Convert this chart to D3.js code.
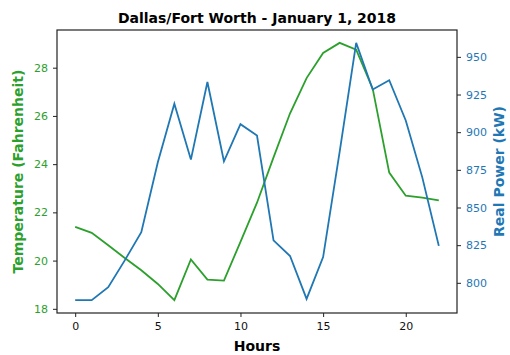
<!DOCTYPE html>
<html>
<head>
<meta charset="utf-8">
<script src="https://cdn.jsdelivr.net/npm/d3@7"></script>
<style>
  body { margin: 0; background: #fff; }
  text { font-family: "DejaVu Sans", sans-serif; }
</style>
</head>
<body>
<script>
// hourly readings, Dallas/Fort Worth, Jan 1 2018
var hours = d3.range(0, 23);
var temperature = [21.40, 21.15, 20.64, 20.11, 19.60, 19.03, 18.36, 20.05, 19.21, 19.17,
                   20.78, 22.40, 24.28, 26.11, 27.57, 28.61, 29.03, 28.75, 27.13, 23.65,
                   22.69, 22.61, 22.50];
var power = [788.5, 788.5, 797.1, 814.9, 833.6, 880.0, 918.9, 881.8, 933.3, 880.7,
             905.3, 897.8, 828.2, 817.8, 789.3, 817.1, 887.0, 959.3, 928.3, 934.5,
             907.8, 870.0, 824.5];
var xTicks = [0, 5, 10, 15, 20];
var tempTicks = [18, 20, 22, 24, 26, 28];
var powerTicks = [800, 825, 850, 875, 900, 925, 950];

var green = "#2ca02c", blue = "#1f77b4";

// set the dimensions and margins of the graph
var margin = {top: 30, right: 53, bottom: 42, left: 57},
    width = 510 - margin.left - margin.right,
    height = 355 - margin.top - margin.bottom;

var svg = d3.select("body").append("svg")
    .attr("width", 510)
    .attr("height", 355)
  .append("g")
    .attr("transform", "translate(" + margin.left + "," + margin.top + ")");

// matplotlib style 5% padding around the data
function padded(vals) {
  var ext = d3.extent(vals), pad = (ext[1] - ext[0]) * 0.05;
  return [ext[0] - pad, ext[1] + pad];
}

var x = d3.scaleLinear().domain(padded(hours)).range([0, width]);
var yT = d3.scaleLinear().domain(padded(temperature)).range([height, 0]);
var yP = d3.scaleLinear().domain(padded(power)).range([height, 0]);

// axes
var xAxis = svg.append("g")
    .attr("transform", "translate(0," + height + ")")
    .call(d3.axisBottom(x).tickValues(xTicks).tickSize(4).tickPadding(5));

var leftAxis = svg.append("g")
    .call(d3.axisLeft(yT).tickValues(tempTicks).tickSize(4).tickPadding(5));

var rightAxis = svg.append("g")
    .attr("transform", "translate(" + width + ",0)")
    .call(d3.axisRight(yP).tickValues(powerTicks).tickSize(4).tickPadding(5));

[xAxis, leftAxis, rightAxis].forEach(function(a) {
  a.select(".domain").remove();
  a.selectAll("text").style("font-size", "11px").style("font-family", "DejaVu Sans");
  a.selectAll("line").attr("stroke", "#222");
});
xAxis.selectAll("text").attr("fill", "#111");
leftAxis.selectAll("text").attr("fill", green);
rightAxis.selectAll("text").attr("fill", blue);

// frame
svg.append("rect")
    .attr("width", width)
    .attr("height", height)
    .attr("fill", "none")
    .attr("stroke", "#222")
    .attr("stroke-width", 1.2);

// lines
var tempLine = d3.line()
    .x(function(d, i) { return x(hours[i]); })
    .y(function(d) { return yT(d); });
var powerLine = d3.line()
    .x(function(d, i) { return x(hours[i]); })
    .y(function(d) { return yP(d); });

svg.append("path")
    .datum(temperature)
    .attr("d", tempLine)
    .attr("fill", "none")
    .attr("stroke", green)
    .attr("stroke-width", 1.8);

svg.append("path")
    .datum(power)
    .attr("d", powerLine)
    .attr("fill", "none")
    .attr("stroke", blue)
    .attr("stroke-width", 1.8);

// labels
svg.append("text")
    .attr("x", width / 2)
    .attr("y", -7)
    .attr("text-anchor", "middle")
    .style("font-size", "14px")
    .style("font-weight", "bold")
    .text("Dallas/Fort Worth - January 1, 2018");

svg.append("text")
    .attr("x", width / 2)
    .attr("y", height + 38)
    .attr("text-anchor", "middle")
    .style("font-size", "14px")
    .style("font-weight", "bold")
    .text("Hours");

svg.append("text")
    .attr("transform", "translate(-34," + height / 2 + ") rotate(-90)")
    .attr("text-anchor", "middle")
    .attr("fill", green)
    .style("font-size", "14px")
    .style("font-weight", "bold")
    .text("Temperature (Fahrenheit)");

svg.append("text")
    .attr("transform", "translate(" + (width + 47) + "," + height / 2 + ") rotate(-90)")
    .attr("text-anchor", "middle")
    .attr("fill", blue)
    .style("font-size", "14px")
    .style("font-weight", "bold")
    .text("Real Power (kW)");
</script>
</body>
</html>
